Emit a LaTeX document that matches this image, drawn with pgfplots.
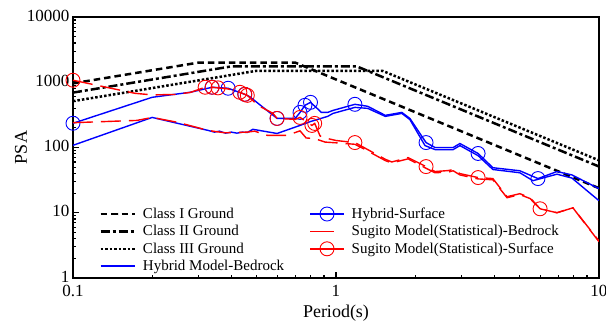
\documentclass[border=0pt]{standalone}
\usepackage{pgfplots}
\pgfplotsset{compat=1.18}
\usepackage{fontspec}
\setmainfont{Liberation Serif}
\definecolor{myblue}{RGB}{0,0,255}
\definecolor{myred}{RGB}{255,0,0}
\pgfplotsset{
  stdlegend/.style={legend image code/.code={\draw[##1, mark indices={2}] plot coordinates {(0pt,0pt) (17pt,0pt) (34pt,0pt)};}},
  sslegend/.style={legend image code/.code={\draw[##1, solid, mark indices={2}] plot coordinates {(0pt,0pt) (17pt,0pt) (34pt,0pt)};}},
}
\begin{document}
\begin{tikzpicture}
\begin{axis}[
  at={(0pt,0pt)}, anchor=south west,
  width=526pt, height=261pt, scale only axis,
  xmode=log, ymode=log,
  xmin=0.1, xmax=10, ymin=1, ymax=10000,
  xtick={0.1,1,10}, xticklabels={0.1,1,10},
  ytick={1,10,100,1000,10000}, yticklabels={1,10,100,1000,10000},
  minor xtick={0.2,0.3,0.4,0.5,0.6,0.7,0.8,0.9,2,3,4,5,6,7,8,9},
  minor ytick={2,3,4,5,6,7,8,9,20,30,40,50,60,70,80,90,200,300,400,500,600,700,800,900,2000,3000,4000,5000,6000,7000,8000,9000},
  tick pos=left, tick align=inside,
  major tick length=6pt, minor tick length=3.5pt,
  major tick style={black, line width=1.5pt},
  minor tick style={black, line width=1.2pt},
  axis line style={line width=2.5pt},
  /pgf/number format/assume math mode=true,
  ticklabel style={font=\fontsize{17}{20}\selectfont},
  xticklabel style={yshift=-3.5pt},
  yticklabel style={yshift=1.5pt},
  xlabel={Period(s)}, ylabel={PSA},
  xlabel style={font=\fontsize{18}{21}\selectfont, at={(axis description cs:0.5,0)}, anchor=base, yshift=-40pt},
  ylabel style={font=\fontsize{18}{21}\selectfont, at={(axis description cs:-0.099,0.5)}, anchor=center},
  clip mode=individual,
  legend columns=4, transpose legend,
  legend cell align=left,
  legend style={at={(rel axis cs:0.05,0.014)}, anchor=south west, draw=none, fill=none,
    font=\fontsize{15}{17}\selectfont, inner sep=0pt, row sep=1.4pt,
    /tikz/every odd column/.append style={column sep=5pt},
    /tikz/every even column/.append style={column sep=23pt}},
]
% Class I
\addplot[black, line width=2.5pt, dash pattern=on 6.5pt off 4pt, stdlegend] coordinates {(0.1,961) (0.3,2000) (0.7,2000) (10,23.8)};
\addlegendentry{Class I Ground}
% Class II
\addplot[black, line width=2.5pt, dash pattern=on 9pt off 3pt on 3pt off 3pt, stdlegend] coordinates {(0.1,694) (0.4,1750) (1.2,1750) (10,51.1)};
\addlegendentry{Class II Ground}
% Class III
\addplot[black, line width=2.5pt, dash pattern=on 2.5pt off 2pt, stdlegend] coordinates {(0.1,513) (0.5,1500) (1.5,1500) (10,63.5)};
\addlegendentry{Class III Ground}
% Hybrid Model-Bedrock
\addplot[myblue, line width=1.4pt, stdlegend] coordinates {
(0.1,108) (0.2,289) (0.326,183) (0.345,172) (0.36,178) (0.38,166) (0.40,172) (0.42,166) (0.44,172) (0.46,170) (0.483,190) (0.597,164) (0.73,218) (0.80,250) (0.93,300) (0.974,333) (1.18,412) (1.32,398) (1.54,300) (1.78,333) (1.91,268) (2.18,107) (2.38,93) (2.79,93) (2.96,107) (3.47,75) (3.95,46) (5.0,41) (5.61,31) (6.92,39) (7.89,34) (10,15.3)};
\addlegendentry{Hybrid Model-Bedrock}
% Hybrid-Surface
\addplot[myblue, line width=1.4pt, mark=o, mark size=7pt, mark options={solid, line width=0.9pt},
  mark indices={1,4,5,6,8,10,11,12,17,22,26,29}, stdlegend] coordinates {
(0.1,235) (0.2,588) (0.279,702) (0.338,838) (0.389,809) (0.45,653) (0.47,600) (0.597,279) (0.70,279) (0.73,345) (0.762,443) (0.80,492) (0.84,412) (0.88,345) (0.93,345) (0.974,370) (1.18,459) (1.32,428) (1.54,311) (1.78,345) (1.91,279) (2.2,119) (2.38,100) (2.79,100) (2.96,115) (3.47,81) (3.95,49) (5.0,44) (5.86,33.4) (6.92,42.8) (7.89,38) (10,23.4)};
\addlegendentry{Hybrid-Surface}
% Sugito Bedrock
\addplot[myred, line width=1.4pt, dash pattern=on 20pt off 8pt, forget plot] coordinates {
(0.1,240) (0.175,260) (0.2,289) (0.25,243) (0.30,200) (0.326,183) (0.35,175) (0.38,168) (0.42,170) (0.46,172) (0.49,178) (0.55,153) (0.65,153) (0.73,180) (0.77,140) (0.83,137) (0.91,121) (1.0,118) (1.18,112) (1.26,98) (1.54,63) (1.63,58) (1.88,67) (2.2,48) (2.38,41) (2.67,42) (2.79,44) (2.96,38) (3.47,33) (3.95,32) (4.47,17) (5.0,19) (5.47,16.5) (5.97,11.5) (6.92,10) (7.96,11.9) (10,3.6)};
\addlegendimage{myred, line width=1.6pt, solid, legend image code/.code={\draw[myred, line width=1.6pt] (0pt,0pt) -- (24pt,0pt);}}
\addlegendentry{Sugito Model(Statistical)-Bedrock}
% Sugito Surface
\addplot[myred, line width=1.4pt, dash pattern=on 20pt off 8pt, mark=o, mark size=7pt, mark options={solid, line width=0.9pt},
  mark indices={1,6,7,8,10,11,12,15,17,18,19,23,28,33,38}, sslegend] coordinates {
(0.1,1074) (0.172,677) (0.2,640) (0.245,650) (0.28,700) (0.318,838) (0.338,838) (0.356,820) (0.389,790) (0.431,702) (0.45,653) (0.46,630) (0.505,443) (0.576,333) (0.597,279) (0.70,270) (0.73,289) (0.81,218) (0.83,234) (0.87,150) (0.93,137) (1.0,128) (1.18,119) (1.26,103) (1.54,66) (1.63,60) (1.88,70) (2.2,51) (2.38,42.8) (2.67,44.3) (2.79,45.9) (2.96,39.8) (3.47,34.6) (3.95,33.4) (4.47,17.6) (5.0,19.6) (5.47,17) (5.97,11.5) (6.92,10) (7.96,11.9) (10,3.7)};
\addlegendentry{Sugito Model(Statistical)-Surface}
\end{axis}
\pgfresetboundingbox
\path[use as bounding box] (-73pt,-45pt) rectangle (533pt,278pt);
\end{tikzpicture}
\end{document}
